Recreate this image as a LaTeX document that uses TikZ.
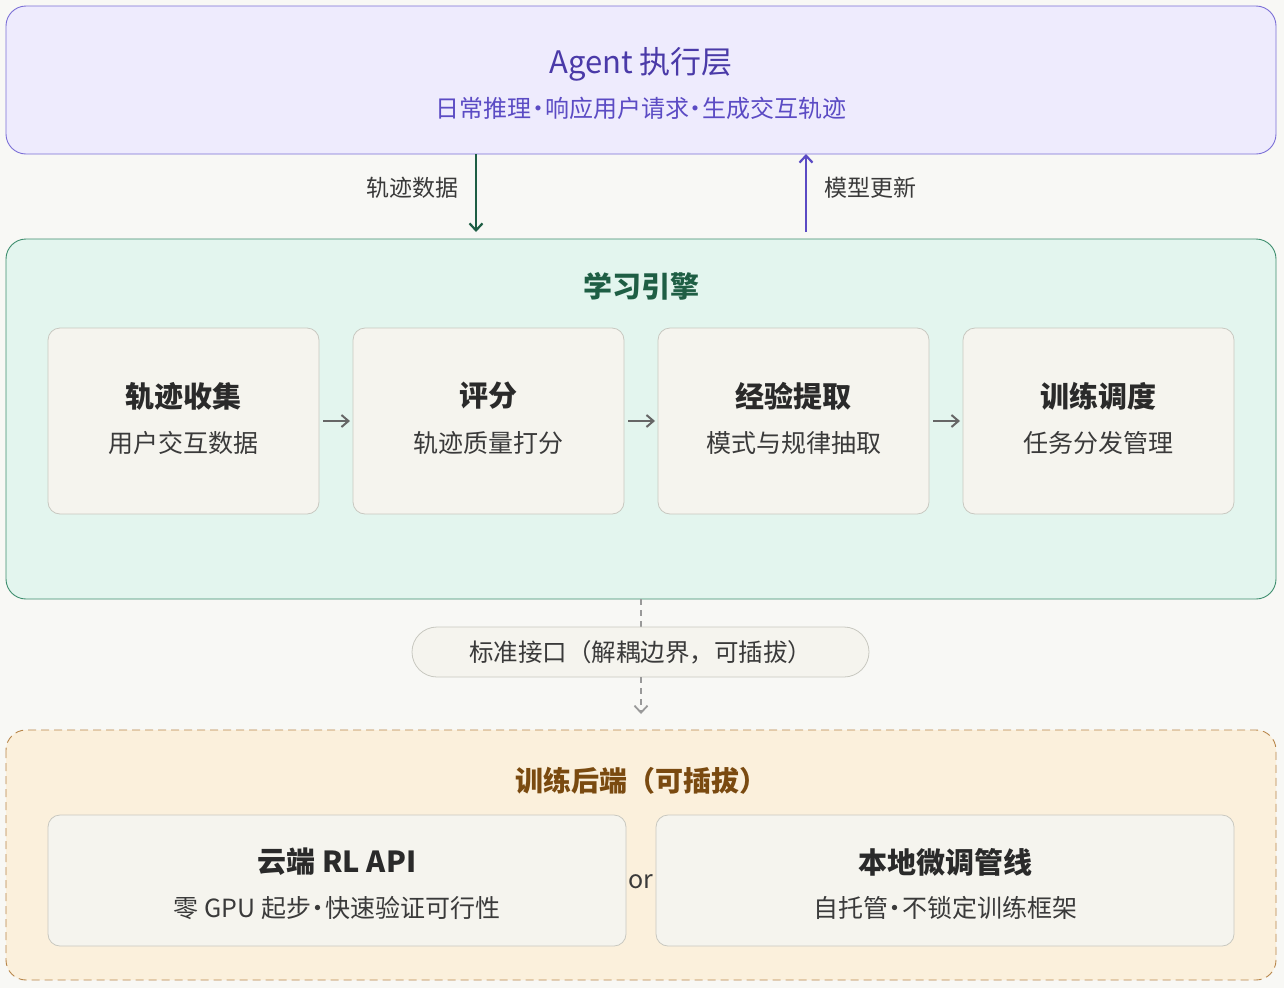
\documentclass[tikz,border=0pt]{standalone}
\usepackage{fontspec}
\setmainfont{Noto Sans CJK SC}
\usetikzlibrary{arrows.meta}
\newcommand{\mdot}{\hspace{-0.22em}·\hspace{-0.22em}}
\definecolor{bg}{HTML}{F8F8F5}
\definecolor{topfill}{HTML}{EEEBFD}\definecolor{topline}{HTML}{7B6FD6}
\definecolor{toptitle}{HTML}{4A3AA8}\definecolor{topsub}{HTML}{5B4BC4}
\definecolor{midfill}{HTML}{E3F5EE}\definecolor{midline}{HTML}{3E8E6E}\definecolor{midtitle}{HTML}{1E5E44}
\definecolor{cardfill}{HTML}{F5F4EE}\definecolor{cardline}{HTML}{C8C8C0}
\definecolor{botfill}{HTML}{FBF0DC}\definecolor{botline}{HTML}{B8864A}\definecolor{bottitle}{HTML}{7A4A10}
\definecolor{txt}{HTML}{2A2A2A}\definecolor{sub}{HTML}{3A3A3A}
\begin{document}
\begin{tikzpicture}[x=1pt,y=-1pt,
 panel/.style={rounded corners=20pt,line width=0.9pt},
 card/.style={rounded corners=12pt,draw=cardline,fill=cardfill,line width=0.8pt},
 ctitle/.style={font=\fontsize{29}{32}\selectfont\bfseries,text=txt},
 csub/.style={font=\fontsize{25}{28}\selectfont,text=sub},
 garr/.style={-{Straight Barb[length=7pt,width=12pt]},line width=2pt,draw=gray!80!black}]
\fill[bg] (0,0) rectangle (1284,988);
\useasboundingbox (0,0) rectangle (1284,988);
% top
\draw[panel,draw=topline,fill=topfill] (6,6) rectangle (1276,154);
\node[font=\fontsize{31}{34}\selectfont,text=toptitle] (toptitle) at (641,64) {Agent 执行层};
\node[font=\fontsize{24}{27}\selectfont,text=topsub] (topsub) at (641,108) {日常推理\mdot 响应用户请求\mdot 生成交互轨迹};
% mid
\draw[panel,draw=midline,fill=midfill] (6,239) rectangle (1276,599);
\node[font=\fontsize{29}{32}\selectfont\bfseries,text=midtitle] (midtitle) at (641,286) {学习引擎};
\coordinate (a1) at (476,154);\coordinate (a2) at (476,232);
\coordinate (b1) at (806,232);\coordinate (b2) at (806,154);
\draw[-{Straight Barb[length=7pt,width=13pt]},line width=2.2pt,draw=midtitle] (a1) -- (a2);
\draw[-{Straight Barb[length=7pt,width=13pt]},line width=2.2pt,draw=topsub] (b1) -- (b2);
\node[font=\fontsize{23}{26}\selectfont,text=sub] (l1) at (412,188) {轨迹数据};
\node[font=\fontsize{23}{26}\selectfont,text=sub] (l2) at (870,188) {模型更新};
\foreach \i/\x/\t/\s in {1/48/轨迹收集/用户交互数据,2/353/评分/轨迹质量打分,3/658/经验提取/模式与规律抽取,4/963/训练调度/任务分发管理}{
 \draw[card] (\x,328) rectangle ++(271,186);
 \node[ctitle] (c\i) at ({\x+135.5},396) {\t};
 \node[csub] (s\i) at ({\x+135.5},443) {\s};
}
\foreach \x in {323,628,933}{\draw[garr] (\x,421) -- ++(27,0);}
% interface
\draw[line width=1.8pt,draw=gray!80,dash pattern=on 6pt off 5pt] (641,599) -- (641,627);
\draw[rounded corners=25pt,draw=cardline,fill=cardfill,line width=0.8pt] (412,627) rectangle (869,677);
\node[font=\fontsize{24.5}{27}\selectfont,text=sub] (iface) at (640.5,652) {标准接口（解耦边界，可插拔）};
\draw[line width=1.8pt,draw=gray!80,dash pattern=on 6pt off 5pt,-{Straight Barb[length=7pt,width=13pt]}] (641,677) -- (641,714);
% bottom
\draw[panel,draw=botline,fill=botfill,dash pattern=on 8pt off 5pt] (6,730) rectangle (1276,980);
\node[font=\fontsize{28}{31}\selectfont\bfseries,text=bottitle] (bottitle) at (641,781) {训练后端（可插拔）};
\draw[card] (48,815) rectangle (626,946);
\draw[card] (656,815) rectangle (1234,946);
\node[ctitle] (d1) at (337,862) {云端 RL API};
\node[csub] (e1) at (337,908) {零 GPU 起步\mdot 快速验证可行性};
\node[ctitle] (d2) at (945,862) {本地微调管线};
\node[csub] (e2) at (945,908) {自托管\mdot 不锁定训练框架};
\node[csub] (or) at (641,882) {or};
\end{tikzpicture}
\end{document}
